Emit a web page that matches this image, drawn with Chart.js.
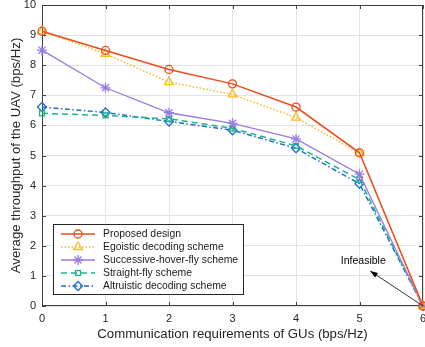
<!DOCTYPE html>
<html>
<head>
<meta charset="utf-8">
<script src="https://cdn.jsdelivr.net/npm/chart.js@4.4.0/dist/chart.umd.min.js"></script>
<style>
  html, body { margin: 0; padding: 0; background: #fff; }
  canvas { display: block; }
</style>
</head>
<body>
<canvas id="c" width="425" height="347"></canvas>
<script>
// communication requirement of GUs (bps/Hz)
const requirements = [0, 1, 2, 3, 4, 5, 6];

// average throughput of the UAV (bps/Hz)
const proposed   = [9.13, 8.49, 7.86, 7.38, 6.61, 5.09, 0];
const egoistic   = [9.13, 8.38, 7.44, 7.03, 6.26, 5.08, 0];
const successive = [8.50, 7.25, 6.42, 6.07, 5.55, 4.38, 0];
const straight   = [6.40, 6.33, 6.22, 5.90, 5.32, 4.20, 0];
const altruistic = [6.61, 6.43, 6.13, 5.84, 5.24, 4.06, 0];

const seriesNames = [
  'Proposed design',
  'Egoistic decoding scheme',
  'Successive-hover-fly scheme',
  'Straight-fly scheme',
  'Altruistic decoding scheme'
];

const FONT = '"Liberation Sans", Arial, Helvetica, sans-serif';
const AXIS_COLOR = '#404040';

const toPoints = ys => ys.map((y, i) => ({ x: requirements[i], y }));

function makeSet(label, ys, color, style, dash, width, radius) {
  return {
    label,
    data: toPoints(ys),
    borderColor: color,
    backgroundColor: 'rgba(0,0,0,0)',
    borderWidth: width,
    borderDash: dash,
    pointStyle: style,
    pointRadius: radius,
    pointBorderColor: color,
    pointBackgroundColor: 'rgba(0,0,0,0)',
    pointBorderWidth: 1.3,
    tension: 0,
    clip: false
  };
}

const datasets = [
  makeSet(seriesNames[0], proposed,   '#EF4B1B', 'circle',  [],              1.5, 4),
  makeSet(seriesNames[1], egoistic,   '#FDB827', 'triangle',[1.5, 2],        1.5, 5),
  makeSet(seriesNames[2], successive, '#9B7BE0', 'star',    [],              1.3, 5),
  makeSet(seriesNames[3], straight,   '#1DB38A', 'rect',    [6, 4],          1.5, 3.5),
  makeSet(seriesNames[4], altruistic, '#1F6FD0', 'rectRot', [5, 2.5, 1.5, 2.5], 1.5, 4.5)
];

// box + inward ticks, MATLAB style
const boxPlugin = {
  id: 'box',
  beforeDatasetsDraw(chart) {
    const { ctx, chartArea: a, scales: { x, y } } = chart;
    ctx.save();
    ctx.strokeStyle = AXIS_COLOR;
    ctx.lineWidth = 1;
    ctx.strokeRect(a.left + 0.5, a.top + 0.5, a.right - a.left - 1, a.bottom - a.top - 1);
    const len = 4;
    ctx.beginPath();
    requirements.forEach(v => {
      const px = Math.round(x.getPixelForValue(v)) + 0.5;
      ctx.moveTo(px, a.bottom); ctx.lineTo(px, a.bottom - len);
      ctx.moveTo(px, a.top); ctx.lineTo(px, a.top + len);
    });
    for (let v = 0; v <= 10; v++) {
      const py = Math.round(y.getPixelForValue(v)) + 0.5;
      ctx.moveTo(a.left, py); ctx.lineTo(a.left + len, py);
      ctx.moveTo(a.right, py); ctx.lineTo(a.right - len, py);
    }
    ctx.stroke();
    ctx.restore();
  }
};

// legend box inside the axes + "Infeasible" arrow
const overlayPlugin = {
  id: 'overlay',
  afterDatasetsDraw(chart) {
    const { ctx, scales: { x, y } } = chart;
    ctx.save();

    // annotation
    const tail = { x: x.getPixelForValue(6), y: y.getPixelForValue(0) };
    const head = { x: x.getPixelForValue(5.17), y: y.getPixelForValue(1.16) };
    ctx.strokeStyle = '#000';
    ctx.fillStyle = '#000';
    ctx.lineWidth = 0.8;
    ctx.beginPath();
    ctx.moveTo(tail.x, tail.y); ctx.lineTo(head.x, head.y);
    ctx.stroke();
    const ang = Math.atan2(head.y - tail.y, head.x - tail.x);
    ctx.beginPath();
    ctx.moveTo(head.x, head.y);
    ctx.lineTo(head.x - 8 * Math.cos(ang - 0.35), head.y - 8 * Math.sin(ang - 0.35));
    ctx.lineTo(head.x - 8 * Math.cos(ang + 0.35), head.y - 8 * Math.sin(ang + 0.35));
    ctx.closePath();
    ctx.fill();
    ctx.font = '10.5px ' + FONT;
    ctx.textAlign = 'center';
    ctx.textBaseline = 'middle';
    ctx.fillText('Infeasible', x.getPixelForValue(5.06), y.getPixelForValue(1.5));

    // legend
    const bx = 53, by = 224, bw = 190, bh = 70;
    ctx.fillStyle = '#fff';
    ctx.fillRect(bx, by, bw, bh);
    ctx.strokeStyle = '#262626';
    ctx.lineWidth = 1;
    ctx.strokeRect(bx + 0.5, by + 0.5, bw, bh);
    ctx.font = '10.4px ' + FONT;
    ctx.textAlign = 'left';
    chart.data.datasets.forEach((ds, i) => {
      const ry = by + 10 + i * 13;
      ctx.strokeStyle = ds.borderColor;
      ctx.lineWidth = ds.borderWidth;
      ctx.setLineDash(ds.borderDash);
      ctx.beginPath();
      ctx.moveTo(61, ry); ctx.lineTo(95, ry);
      ctx.stroke();
      ctx.setLineDash([]);
      ctx.lineWidth = ds.pointBorderWidth;
      ctx.fillStyle = 'rgba(0,0,0,0)';
      Chart.helpers.drawPoint(ctx, {
        pointStyle: ds.pointStyle, radius: ds.pointRadius, rotation: 0, borderWidth: ds.pointBorderWidth
      }, 78, ry);
      ctx.fillStyle = '#1a1a1a';
      ctx.fillText(ds.label, 103, ry + 0.5);
    });
    ctx.restore();
  }
};

new Chart(document.getElementById('c'), {
  type: 'line',
  data: { datasets },
  options: {
    responsive: false,
    animation: false,
    layout: { autoPadding: false, padding: { top: 5, right: 0, left: 0, bottom: 0 } },
    plugins: { legend: { display: false }, tooltip: { enabled: false } },
    scales: {
      x: {
        type: 'linear', min: 0, max: 6,
        afterFit: s => { s.height = 41; s.paddingLeft = 0; s.paddingRight = 2; },
        ticks: { stepSize: 1, padding: 6, color: '#262626', font: { family: FONT, size: 11 }, maxRotation: 0 },
        grid: { color: '#e3e3e3', drawTicks: false },
        border: { display: false },
        title: {
          display: true, text: 'Communication requirements of GUs (bps/Hz)',
          color: '#262626', font: { family: FONT, size: 13.2 }, padding: { top: 0, bottom: 5 }
        }
      },
      y: {
        min: 0, max: 10,
        afterFit: s => { s.width = 42; s.paddingTop = 0; s.paddingBottom = 0; },
        ticks: { stepSize: 1, padding: 6, color: '#262626', font: { family: FONT, size: 11 } },
        grid: { color: '#e3e3e3', drawTicks: false },
        border: { display: false },
        title: {
          display: true, text: 'Average throughput of the UAV (bps/Hz)',
          color: '#262626', font: { family: FONT, size: 13.2 }, padding: { top: 8, bottom: 0 }
        }
      }
    }
  },
  plugins: [boxPlugin, overlayPlugin]
});
</script>
</body>
</html>
